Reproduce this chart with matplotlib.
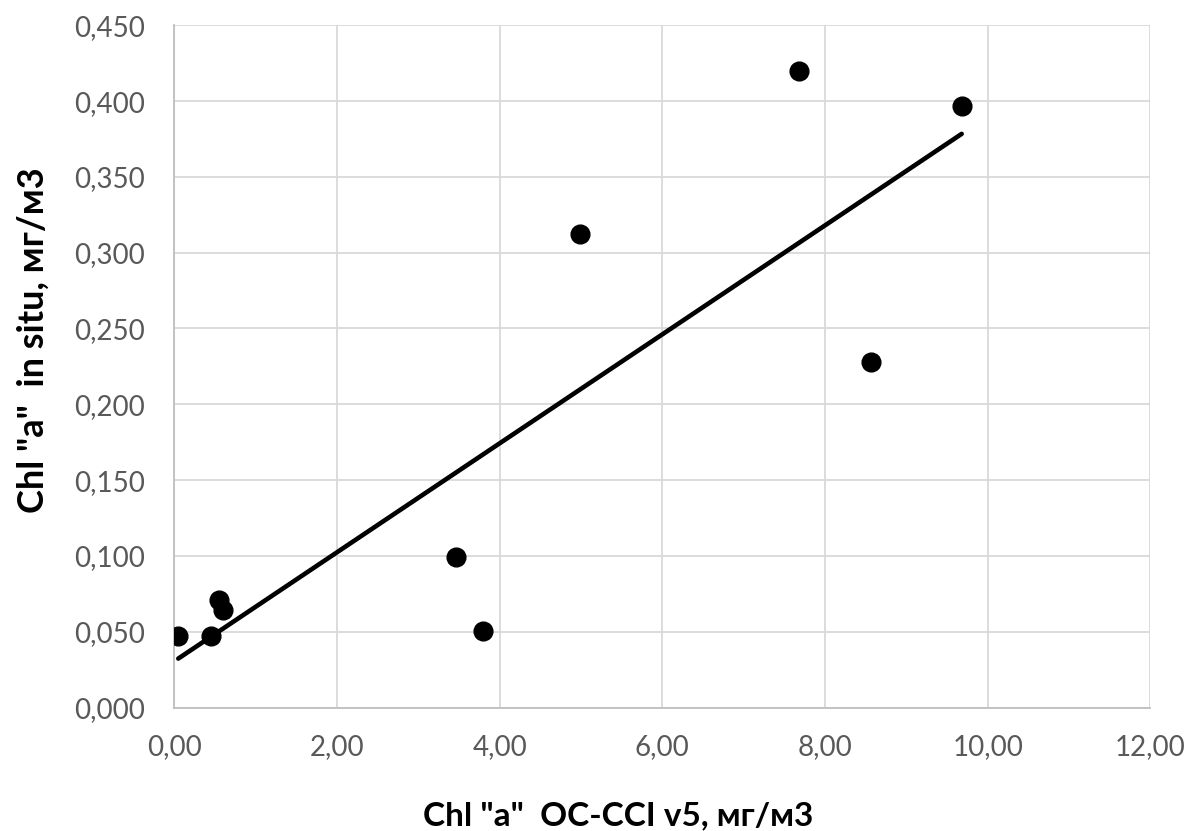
import numpy as np
import matplotlib
matplotlib.use("Agg")
import matplotlib.pyplot as plt
from matplotlib.ticker import FuncFormatter, MultipleLocator

# Chlorophyll "a": satellite product (OC-CCI v5) vs in situ measurements
chl_occci = [0.05, 0.45, 0.55, 0.60, 3.46, 3.80, 4.99, 7.68, 8.57, 9.68]
chl_insitu = [0.047, 0.047, 0.071, 0.064, 0.0995, 0.0505, 0.3125, 0.420, 0.2277, 0.397]

x_label = 'Chl "a"  OC-CCI v5, мг/м3'
y_label = 'Chl "a"  in situ, мг/м3'

plt.rcParams['font.family'] = ['Lato', 'DejaVu Sans']

W, H = 1191, 831
fig = plt.figure(figsize=(W / 100, H / 100), dpi=100)
ax = fig.add_axes([174.2 / W, 1 - 707.5 / H, (1150.4 - 174.2) / W, (707.5 - 25.3) / H])

x = np.array(chl_occci)
y = np.array(chl_insitu)

# linear trend line over the data range
slope, intercept = np.polyfit(x, y, 1)
xt = np.array([x.min(), x.max()])
ax.plot(xt, slope * xt + intercept, color="black", lw=3.3, solid_capstyle="round", zorder=3)

ax.plot(x, y, "o", color="black", markersize=13.5, zorder=4)

ax.set_xlim(0, 12)
ax.set_ylim(0, 0.45)
ax.xaxis.set_major_locator(MultipleLocator(2))
ax.yaxis.set_major_locator(MultipleLocator(0.05))
ax.xaxis.set_major_formatter(FuncFormatter(lambda v, p: f"{v:.2f}".replace(".", ",")))
ax.yaxis.set_major_formatter(FuncFormatter(lambda v, p: f"{v:.3f}".replace(".", ",")))

ax.grid(True, color="#d9d9d9", lw=1.3, zorder=0)
ax.set_axisbelow(True)
for side in ("top", "right"):
    ax.spines[side].set_visible(False)
for side in ("left", "bottom"):
    ax.spines[side].set_color("#bfbfbf")
    ax.spines[side].set_linewidth(1.3)

ax.tick_params(axis="both", length=0, labelsize=20, labelcolor="#595959")
ax.tick_params(axis="x", pad=19)
ax.tick_params(axis="y", pad=21)

fig.text(618 / W, 1 - 825 / H, x_label, ha="center", va="baseline",
         fontsize=24, fontweight="bold")
fig.text(33 / W, 1 - 340 / H, y_label, ha="center", va="center", rotation=90,
         fontsize=26, fontweight="bold")

fig.savefig("out.png", dpi=100)
